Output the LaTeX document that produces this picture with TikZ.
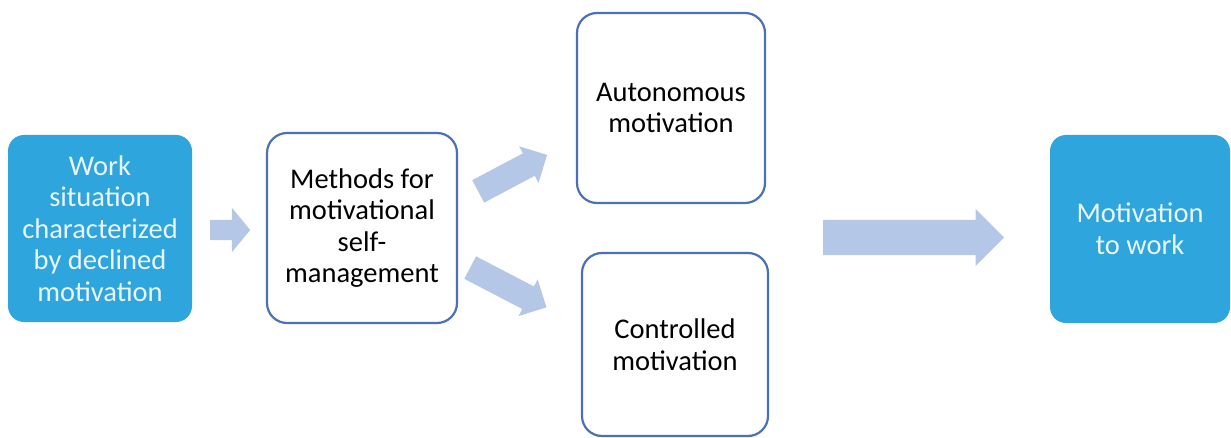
\documentclass[tikz,border=0pt]{standalone}
\usepackage{fontspec}
\setmainfont{Carlito}
\usetikzlibrary{shapes.arrows}
\definecolor{boxfill}{RGB}{46,165,220}
\definecolor{boxtext}{RGB}{234,245,250}
\definecolor{boxline}{RGB}{74,112,182}
\definecolor{arrowfill}{RGB}{180,199,231}
\begin{document}
\begin{tikzpicture}[x=1pt,y=-1pt,
  every node/.style={font=\fontsize{28.5}{31.5}\selectfont, align=center, inner sep=0pt},
  filledbox/.style={rounded corners=16pt, fill=boxfill, text=boxtext},
  outlinebox/.style={rounded corners=20pt, draw=boxline, line width=2.2pt, fill=white, text=black},
  blockarrow/.style={single arrow, fill=arrowfill, draw=none, single arrow head indent=0pt, anchor=tail}
]
\useasboundingbox (0,0) rectangle (1231,438);

% boxes
\node[filledbox, minimum width=184pt, minimum height=187pt] (work) at (100,228.5)
  {Work\\situation\\characterized\\by declined\\motivation};
\node[outlinebox, minimum width=190pt, minimum height=190pt] (methods) at (362,228)
  {Methods for\\motivational\\self-\\management};
\node[outlinebox, minimum width=188pt, minimum height=190pt] (auto) at (671,108)
  {Autonomous\\motivation};
\node[outlinebox, minimum width=186pt, minimum height=183pt] (ctrl) at (675,344.5)
  {Controlled\\motivation};
\node[filledbox, minimum width=180pt, minimum height=188pt] (goal) at (1140,229)
  {Motivation\\to work};

% block arrows, each placed by its tail
\node[blockarrow, inner sep=10pt, minimum height=40pt, single arrow head extend=12pt,
  single arrow tip angle=101] (a1) at (210,230) {};
\node[blockarrow, inner sep=12.5pt, minimum height=78pt, single arrow head extend=8pt,
  single arrow tip angle=90, rotate=27.9] (a2) at (478,191.5) {};
\node[blockarrow, inner sep=12.5pt, minimum height=86pt, single arrow head extend=8pt,
  single arrow tip angle=90, rotate=-27.5] (a3) at (470,267.5) {};
\node[blockarrow, inner sep=17.5pt, minimum height=181pt, single arrow head extend=11pt,
  single arrow tip angle=90] (a4) at (823,237.5) {};
\end{tikzpicture}
\end{document}
